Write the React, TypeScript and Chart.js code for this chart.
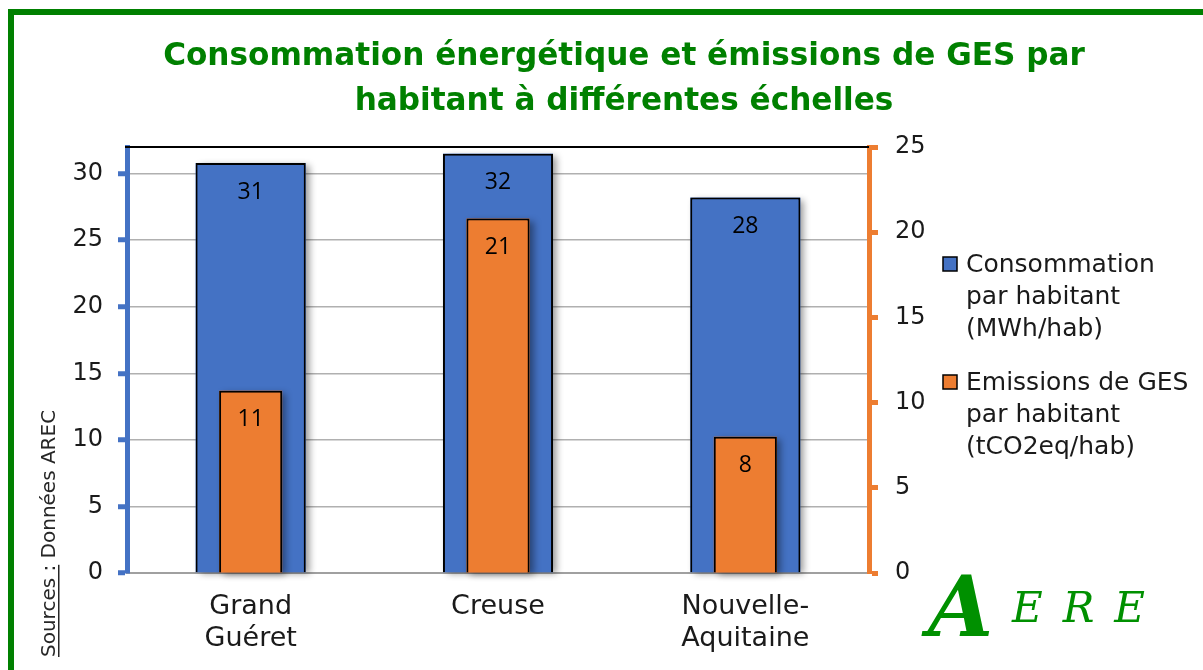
import React, { useEffect, useRef } from "react";
import { Chart, registerables } from "chart.js";

Chart.register(...registerables);

// ---- data ----
const categories: string[][] = [["Grand", "Guéret"], ["Creuse"], ["Nouvelle-", "Aquitaine"]];
const consumption: number[] = [30.8, 31.5, 28.2];
const emissions: number[] = [10.7, 20.8, 8.0];
const consumptionLegend: string[] = ["Consommation", "par habitant", "(MWh/hab)"];
const emissionsLegend: string[] = ["Emissions de GES", "par habitant", "(tCO2eq/hab)"];
const titleLines: string[] = ["Consommation énergétique et émissions de GES par", "habitant à différentes échelles"];
const leftAxisMax = 32;
const rightAxisMax = 25;
const tickStep = 5;
const sourceLabel = "Sources :";
const sourceText = " Données AREC";
const logoBig = "A";
const logoSmall = "ERE";

// ---- styles ----
const GREEN = "#008000";
const BLUE = "#4472C4";
const ORANGE = "#ED7D31";
const TEXT = "#1a1a1a";
const FONT = "'DejaVu Sans', sans-serif";
const LABEL_FONT = "'Open Sans', sans-serif";

const shadowAndLabels = {
  id: "shadowAndLabels",
  beforeDatasetDraw(chart: any, args: any) {
    const ctx = chart.ctx;
    const meta = args.meta;
    const ds = chart.data.datasets[meta.index];
    ctx.save();
    ctx.shadowColor = "rgba(0,0,0,0.4)";
    ctx.shadowBlur = 7;
    ctx.shadowOffsetX = 4;
    ctx.shadowOffsetY = 2;
    ctx.fillStyle = ds.backgroundColor;
    meta.data.forEach((bar: any) => {
      ctx.fillRect(bar.x - bar.width / 2, bar.y, bar.width, bar.base - bar.y);
    });
    ctx.restore();
  },
  afterDatasetsDraw(chart: any) {
    const ctx = chart.ctx;
    ctx.save();
    ctx.fillStyle = "#000";
    ctx.font = `23px ${LABEL_FONT}`;
    ctx.textAlign = "center";
    ctx.textBaseline = "middle";
    chart.data.datasets.forEach((ds: any, di: number) => {
      const meta = chart.getDatasetMeta(di);
      meta.data.forEach((bar: any, i: number) => {
        ctx.fillText(String(Math.round(ds.data[i])), bar.x, bar.y + 29);
      });
    });
    ctx.restore();
  },
};

const decor = {
  id: "decor",
  afterDraw(chart: any) {
    const ctx = chart.ctx;
    const ca = chart.chartArea;
    ctx.save();
    // top frame line of plot area
    ctx.strokeStyle = "#000";
    ctx.lineWidth = 2;
    ctx.beginPath();
    ctx.moveTo(ca.left - 2, ca.top);
    ctx.lineTo(ca.right, ca.top);
    ctx.stroke();

    // title
    ctx.fillStyle = GREEN;
    ctx.textAlign = "center";
    ctx.textBaseline = "alphabetic";
    let size = 32;
    ctx.font = `bold ${size}px ${FONT}`;
    const w = ctx.measureText(titleLines[0]).width;
    size = Math.min(36, (size * 922) / w);
    ctx.font = `bold ${size}px ${FONT}`;
    ctx.fillText(titleLines[0], 624, 65);
    ctx.fillText(titleLines[1], 624, 110);

    // legend
    const items = [
      { color: chart.data.datasets[0].backgroundColor, lines: consumptionLegend, top: 257 },
      { color: chart.data.datasets[1].backgroundColor, lines: emissionsLegend, top: 375 },
    ];
    ctx.textAlign = "left";
    ctx.textBaseline = "middle";
    ctx.font = `25px ${FONT}`;
    items.forEach((it) => {
      ctx.fillStyle = it.color;
      ctx.fillRect(943, it.top, 14, 14);
      ctx.strokeStyle = "#000";
      ctx.lineWidth = 1.5;
      ctx.strokeRect(943, it.top, 14, 14);
      ctx.fillStyle = TEXT;
      it.lines.forEach((ln, k) => {
        ctx.fillText(ln, 966, it.top + 8 + k * 32);
      });
    });

    // sources (rotated)
    ctx.save();
    ctx.translate(55, 657);
    ctx.rotate(-Math.PI / 2);
    ctx.font = `20px ${FONT}`;
    ctx.fillStyle = "#262626";
    ctx.textAlign = "left";
    ctx.textBaseline = "alphabetic";
    ctx.fillText(sourceLabel, 0, 0);
    const sw = ctx.measureText(sourceLabel).width;
    ctx.fillRect(0, 3, sw, 1.5);
    ctx.fillText(sourceText, sw, 0);
    ctx.restore();

    // logo
    ctx.fillStyle = "#009000";
    ctx.textAlign = "left";
    ctx.textBaseline = "alphabetic";
    ctx.font = `italic bold 84px 'DejaVu Serif', serif`;
    ctx.fillText(logoBig, 928, 636);
    ctx.font = `italic 42px 'DejaVu Serif', serif`;
    (ctx as any).letterSpacing = "20px";
    ctx.fillText(logoSmall, 1012, 622);
    (ctx as any).letterSpacing = "0px";
    ctx.restore();
  },
};

export default function App() {
  const ref = useRef<HTMLCanvasElement>(null);

  useEffect(() => {
    const canvas = ref.current!;
    const chart = new Chart(canvas, {
      type: "bar",
      data: {
        labels: categories,
        datasets: [
          {
            label: consumptionLegend.join(" "),
            data: consumption,
            backgroundColor: BLUE,
            borderColor: "#000",
            borderWidth: 2,
            yAxisID: "y",
            grouped: false,
            barPercentage: 0.445,
            categoryPercentage: 1,
            order: 1,
          } as any,
          {
            label: emissionsLegend.join(" "),
            data: emissions,
            backgroundColor: ORANGE,
            borderColor: "#000",
            borderWidth: 2,
            yAxisID: "y1",
            grouped: false,
            barPercentage: 0.255,
            categoryPercentage: 1,
            order: 0,
          } as any,
        ],
      },
      options: {
        responsive: false,
        animation: false,
        layout: { padding: { left: 0, right: 274, top: 147, bottom: 0 } },
        plugins: {
          legend: { display: false },
          title: { display: false },
          tooltip: { enabled: false },
        },
        scales: {
          x: {
            grid: { drawOnChartArea: false, drawTicks: false },
            border: { color: "#A0A0A0", width: 2 },
            ticks: {
              color: TEXT,
              font: { family: FONT, size: 27, lineHeight: 1.19 },
              padding: 18,
              maxRotation: 0,
              autoSkip: false,
            },
            afterFit: (s: any) => {
              s.height = 97;
            },
          },
          y: {
            position: "left",
            min: 0,
            max: leftAxisMax,
            ticks: {
              stepSize: tickStep,
              includeBounds: false,
              color: TEXT,
              font: { family: FONT, size: 24 },
              padding: 15,
            },
            grid: {
              color: "#B0B0B0",
              lineWidth: 1.5,
              tickColor: BLUE,
              tickLength: 9,
              tickWidth: 5,
            },
            border: { color: BLUE, width: 5 },
            afterFit: (s: any) => {
              s.width = 127;
            },
          },
          y1: {
            position: "right",
            min: 0,
            max: rightAxisMax,
            ticks: {
              stepSize: tickStep,
              color: TEXT,
              font: { family: FONT, size: 24 },
              padding: 17,
            },
            grid: {
              drawOnChartArea: false,
              tickColor: ORANGE,
              tickLength: 9,
              tickWidth: 5,
            },
            border: { color: ORANGE, width: 5 },
            afterFit: (s: any) => {
              s.width = 60;
            },
          },
        } as any,
      },
      plugins: [shadowAndLabels, decor],
    });
    return () => chart.destroy();
  }, []);

  return (
    <div
      style={{
        position: "fixed",
        left: 0,
        top: 0,
        width: 1203,
        height: 670,
        background: "#fff",
        overflow: "hidden",
      }}
    >
      <div
        style={{
          position: "absolute",
          left: 8,
          top: 9,
          width: 1195,
          height: 661,
          borderTop: `6px solid ${GREEN}`,
          borderLeft: `6px solid ${GREEN}`,
          boxSizing: "border-box",
        }}
      />
      <canvas
        ref={ref}
        width={1203}
        height={670}
        style={{ position: "absolute", left: 0, top: 0, width: 1203, height: 670 }}
      />
    </div>
  );
}
